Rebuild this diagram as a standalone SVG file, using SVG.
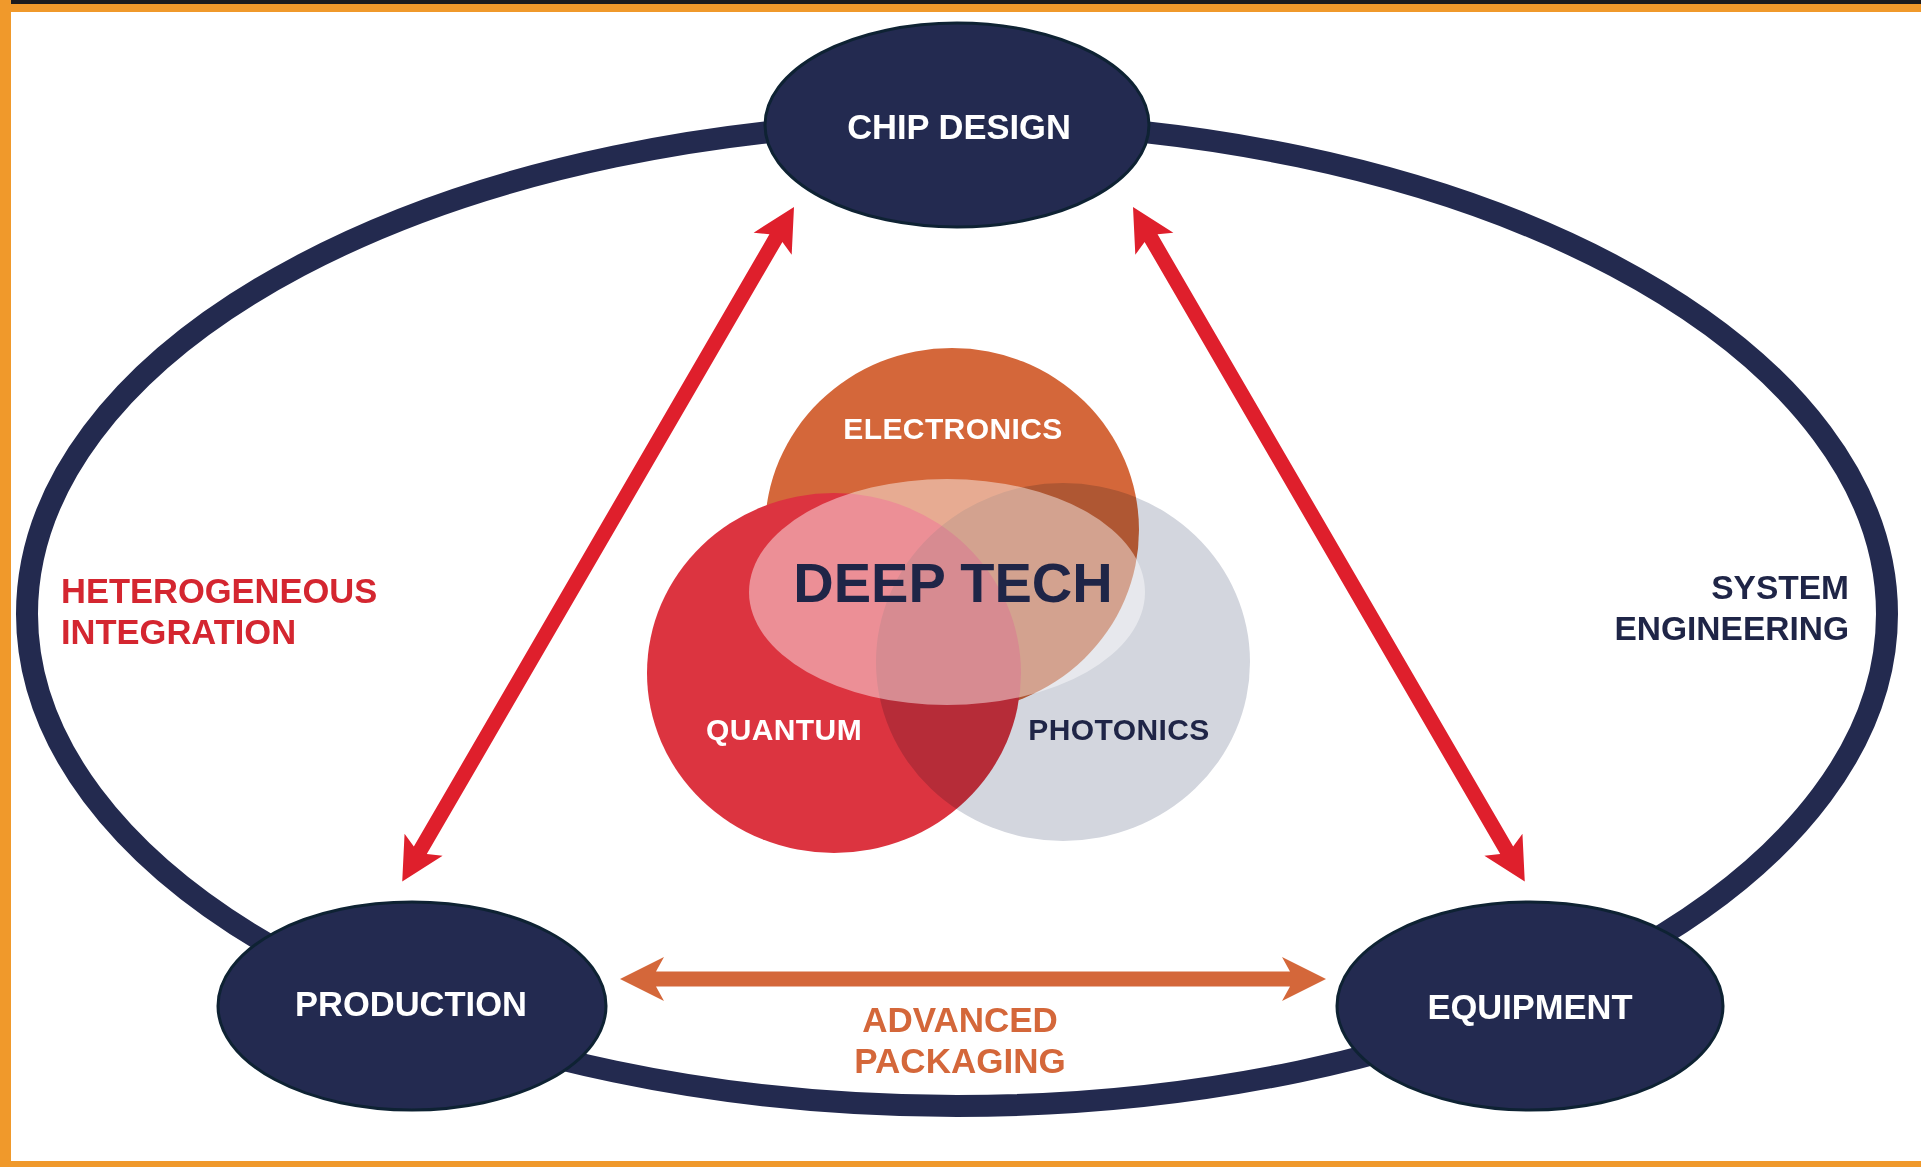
<svg xmlns="http://www.w3.org/2000/svg" width="1921" height="1167" viewBox="0 0 1921 1167">
  <style>
    text { font-family: "Liberation Sans", Arial, sans-serif; font-weight: bold; }
    .node { fill: #232a50; stroke: #0e2233; stroke-width: 3; }
    .nodelabel { fill: #ffffff; font-size: 34.5px; text-anchor: middle; }
    .venn { font-size: 30px; letter-spacing: 0.4px; text-anchor: middle; }
    .red { fill: #df1f2c; }
    .orange { fill: #d4673a; }
  </style>
  <!-- frame -->
  <rect x="0" y="0" width="1921" height="1167" fill="#ffffff"/>
  <rect x="0" y="0" width="1921" height="4" fill="#1b1b1e"/>
  <rect x="0" y="4" width="1921" height="8" fill="#f0992b"/>
  <rect x="0" y="0" width="11" height="1167" fill="#f0992b"/>
  <rect x="0" y="1161" width="1921" height="6" fill="#f0992b"/>

  <!-- outer ring -->
  <g id="ring">
    <ellipse cx="957" cy="614" rx="930" ry="492" fill="none" stroke="#232a4f" stroke-width="22"/>
  </g>

  <!-- venn -->
  <g id="electronics">
    <ellipse cx="952" cy="530" rx="187" ry="182" fill="#d4673a"/>
  </g>
  <g id="quantum">
    <ellipse cx="834" cy="673" rx="187" ry="180" fill="#dc3440"/>
  </g>
  <g id="photonics">
    <ellipse cx="1063" cy="662" rx="187" ry="179" fill="#d3d6de" style="mix-blend-mode:multiply"/>
  </g>
  <g id="deep-tech">
    <ellipse cx="947" cy="592" rx="198" ry="113" fill="#ffffff" fill-opacity="0.45"/>
    <text x="953" y="602" font-size="56" text-anchor="middle" fill="#1f2547">DEEP TECH</text>
  </g>
  <text class="venn" x="953" y="439" fill="#ffffff">ELECTRONICS</text>
  <text class="venn" x="784" y="740" fill="#ffffff">QUANTUM</text>
  <text class="venn" x="1119" y="740" fill="#1f2547">PHOTONICS</text>

  <!-- connectors -->
  <g id="connectors">
    <path class="red" transform="translate(794,207) rotate(120.15)" d="M0,0 L42.5,-22 L36,-7.5 L744,-7.5 L737.5,-22 L780,0 L737.5,22 L744,7.5 L36,7.5 L42.5,22 Z"/>
    <path class="red" transform="translate(1133,207) rotate(59.85)" d="M0,0 L42.5,-22 L36,-7.5 L744,-7.5 L737.5,-22 L780,0 L737.5,22 L744,7.5 L36,7.5 L42.5,22 Z"/>
    <path class="orange" transform="translate(620,979)" d="M0,0 L44,-22 L36,-7.5 L670,-7.5 L662,-22 L706,0 L662,22 L670,7.5 L36,7.5 L44,22 Z"/>
  </g>

  <!-- nodes -->
  <g id="chip-design">
    <ellipse class="node" cx="957" cy="125" rx="192" ry="102"/>
    <text class="nodelabel" x="959" y="139" font-size="34">CHIP DESIGN</text>
  </g>
  <g id="production">
    <ellipse class="node" cx="412" cy="1006" rx="194" ry="104"/>
    <text class="nodelabel" x="411" y="1016">PRODUCTION</text>
  </g>
  <g id="equipment">
    <ellipse class="node" cx="1530" cy="1006" rx="193" ry="104"/>
    <text class="nodelabel" x="1530" y="1019">EQUIPMENT</text>
  </g>

  <!-- labels -->
  <g id="heterogeneous-integration">
    <text x="61" y="603" font-size="34.5" fill="#d42630">HETEROGENEOUS</text>
    <text x="61" y="644" font-size="34.5" fill="#d42630">INTEGRATION</text>
  </g>
  <g id="system-engineering">
    <text x="1849" y="599" font-size="33.5" text-anchor="end" fill="#1f2547">SYSTEM</text>
    <text x="1849" y="640" font-size="33.5" text-anchor="end" fill="#1f2547">ENGINEERING</text>
  </g>
  <g id="advanced-packaging">
    <text x="960" y="1032" font-size="35" text-anchor="middle" fill="#d4673a">ADVANCED</text>
    <text x="960" y="1073" font-size="35" text-anchor="middle" fill="#d4673a">PACKAGING</text>
  </g>
</svg>
